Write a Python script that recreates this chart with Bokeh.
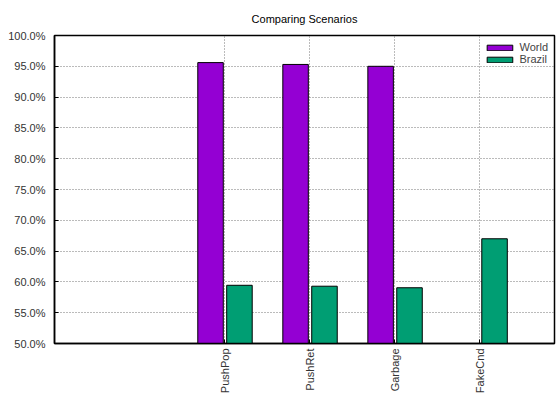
from bokeh.plotting import figure
from bokeh.models import (ColumnDataSource, Range1d, FixedTicker, PrintfTickFormatter,
                          Legend, LegendItem)
from bokeh.embed import file_html
from bokeh.resources import INLINE
import math

# Scenario data (percent)
scenarios = ["PushPop", "PushRet", "Garbage", "FakeCnd"]
world = [95.6, 95.3, 95.0, float("nan")]
brazil = [59.45, 59.3, 59.05, 67.0]
y_ticks = [50, 55, 60, 65, 70, 75, 80, 85, 90, 95, 100]

PURPLE = "#9400D3"
GREEN = "#009E73"
FONT = "Liberation Sans"

idx = list(range(len(scenarios)))
w_src = ColumnDataSource(dict(
    x=[i - 0.165 for i, v in zip(idx, world) if not math.isnan(v)],
    top=[v for v in world if not math.isnan(v)],
))
b_src = ColumnDataSource(dict(
    x=[i + 0.175 for i in idx],
    top=brazil,
))

p = figure(width=556, height=396, output_backend="svg", toolbar_location=None,
           x_range=Range1d(-2, 3.88), y_range=Range1d(50, 100),
           min_border_left=54, min_border_right=2, min_border_top=35,
           min_border_bottom=51, title="Comparing Scenarios")

p.title.align = "center"
p.title.text_font = FONT
p.title.text_font_size = "11px"
p.title.text_font_style = "normal"
p.title.text_color = "#000000"
p.title.standoff = 21

p.background_fill_color = "white"
p.border_fill_color = "white"
p.outline_line_color = "black"
p.outline_line_width = 1.5

rw = p.vbar(x="x", top="top", bottom=50, width=0.3, source=w_src,
            fill_color=PURPLE, line_color="black", line_width=1)
rb = p.vbar(x="x", top="top", bottom=50, width=0.3, source=b_src,
            fill_color=GREEN, line_color="black", line_width=1)

# Axes
p.yaxis.ticker = FixedTicker(ticks=y_ticks)
p.yaxis.formatter = PrintfTickFormatter(format="%.1f%%")
p.xaxis.ticker = FixedTicker(ticks=idx)
p.xaxis.major_label_overrides = {i: s for i, s in zip(idx, scenarios)}
p.xaxis.major_label_orientation = math.pi / 2

for ax in (p.xaxis[0], p.yaxis[0]):
    ax.axis_line_color = "black"
    ax.axis_line_width = 1.5
    ax.major_tick_in = 4
    ax.major_tick_out = 0
    ax.major_tick_line_color = "black"
    ax.minor_tick_line_color = None
    ax.major_label_text_font = FONT
    ax.major_label_text_font_size = "11px"
    ax.major_label_text_color = "#333333"
p.yaxis.major_label_standoff = 9
p.xaxis.major_label_standoff = 5

# Dotted grid
for g in (p.xgrid[0], p.ygrid[0]):
    g.grid_line_color = "#777777"
    g.grid_line_dash = "1 2"
    g.grid_line_width = 1
p.ygrid.ticker = FixedTicker(ticks=y_ticks[1:-1])

legend = Legend(items=[LegendItem(label="World", renderers=[rw]),
                       LegendItem(label="Brazil", renderers=[rb])],
                location="top_right")
legend.background_fill_alpha = 0
legend.border_line_color = None
legend.label_text_font = FONT
legend.label_text_font_size = "11px"
legend.glyph_width = 32
legend.glyph_height = 7
legend.label_height = 12
legend.label_standoff = 4
legend.spacing = 0
legend.padding = 2
legend.margin = 6
p.add_layout(legend)

open("out.html", "w").write(file_html(p, INLINE))
